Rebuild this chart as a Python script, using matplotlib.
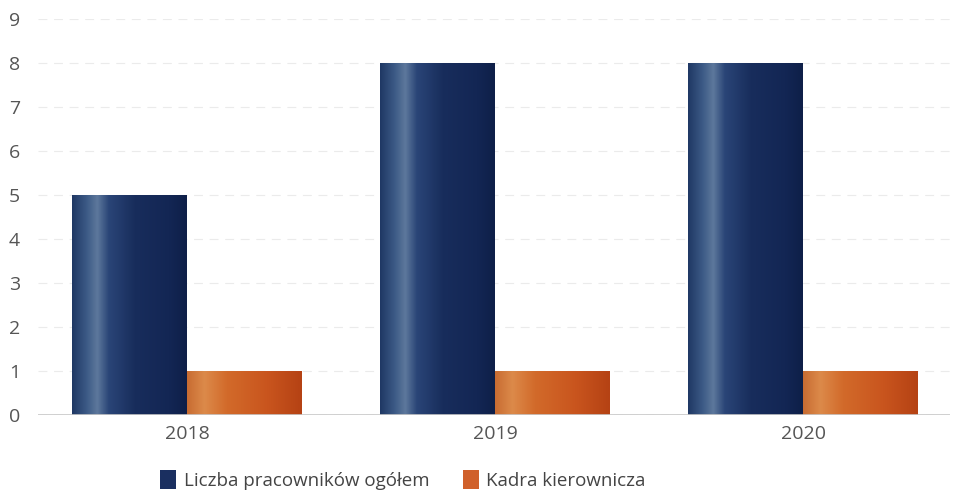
import matplotlib
matplotlib.use('Agg')
import matplotlib.pyplot as plt
import numpy as np
from matplotlib.colors import LinearSegmentedColormap
from matplotlib.patches import Patch

plt.rcParams['font.family'] = ['Open Sans', 'DejaVu Sans']

years = ['2018', '2019', '2020']
ogolem = [5, 8, 8]
kadra = [1, 1, 1]
labels = ['Liczba pracowników ogółem', 'Kadra kierownicza']

# gradienty imitujące "walce" z oryginału
navy = LinearSegmentedColormap.from_list('navy', [
    (0.0, '#1f3864'), (0.12, '#3a5884'), (0.22, '#5d789c'), (0.32, '#2a4577'),
    (0.55, '#182d5c'), (0.85, '#132654'), (1.0, '#0e1f48')])
orange = LinearSegmentedColormap.from_list('orange', [
    (0.0, '#c86c32'), (0.15, '#dc8a4a'), (0.35, '#d26a2a'),
    (0.7, '#c9551e'), (1.0, '#b54214')])

fig = plt.figure(figsize=(9.55, 4.92), dpi=100)
ax = fig.add_axes([0.040, 0.1565, 0.955, 0.805])

x = np.arange(len(years))
w = 0.373
b1 = ax.bar(x - w / 2, ogolem, w, color='#182d5c', zorder=2)
b2 = ax.bar(x + w / 2, kadra, w, color='#c9551e', zorder=2)

grad = np.linspace(0, 1, 256).reshape(1, -1)
for bars, cmap in ((b1, navy), (b2, orange)):
    for bar in bars:
        x0, y0 = bar.get_x(), bar.get_y()
        im = ax.imshow(grad, cmap=cmap, aspect='auto', zorder=3,
                       extent=[x0, x0 + bar.get_width(), y0, y0 + bar.get_height()])
        im.set_clip_path(bar)

ax.set_xlim(-0.484, 2.477)
ax.set_ylim(0, 9)
ax.set_yticks(range(0, 10))
ax.set_xticks(x)
ax.set_xticklabels(years)
ax.yaxis.grid(True, color='#ebebeb', linestyle=(0, (8, 6)), linewidth=0.8, zorder=0)
ax.axhline(0, color='#c8c8c8', linewidth=1.2, zorder=4)
for s in ax.spines.values():
    s.set_visible(False)
ax.tick_params(axis='both', length=0, labelsize=14, labelcolor='#555555')
ax.tick_params(axis='y', pad=13)
ax.tick_params(axis='x', pad=7)

handles = [Patch(facecolor='#1a2f60', label=labels[0]),
           Patch(facecolor='#d0602a', label=labels[1])]
fig.legend(handles=handles, loc='center', bbox_to_anchor=(0.422, 0.025),
           ncol=2, frameon=False, fontsize=13.5, labelcolor='#444444',
           handlelength=0.85, handleheight=1.25, handletextpad=0.4, columnspacing=1.8)

fig.savefig('out.png', dpi=100)
